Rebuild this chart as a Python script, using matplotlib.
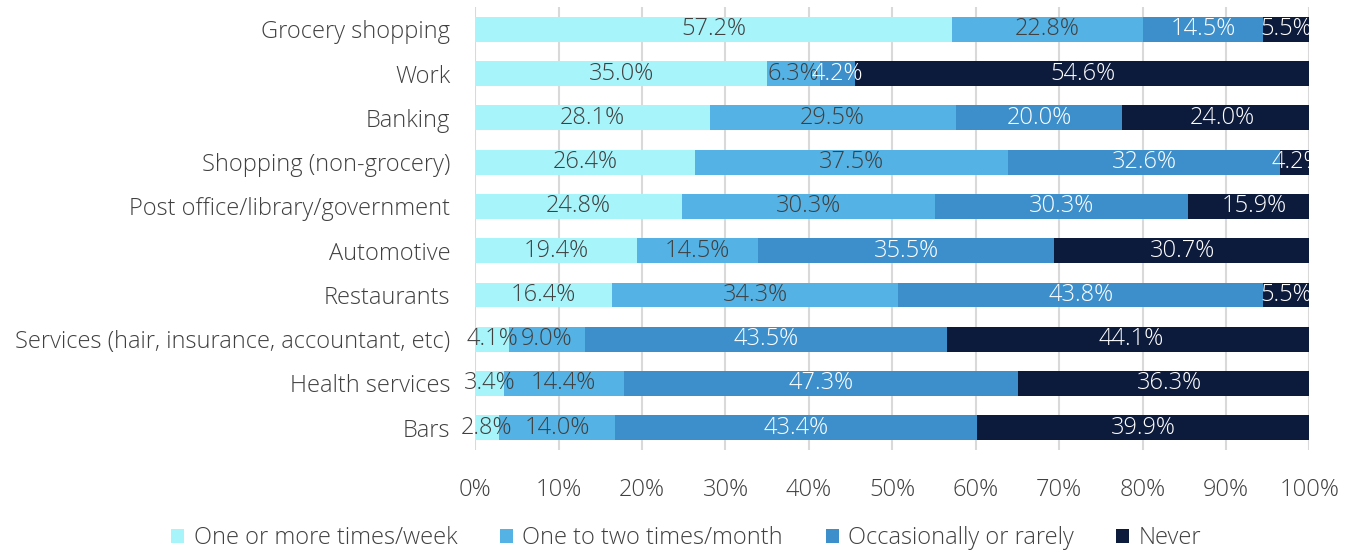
import matplotlib
matplotlib.use("Agg")
import matplotlib.pyplot as plt
import numpy as np

categories = [
    "Grocery shopping",
    "Work",
    "Banking",
    "Shopping (non-grocery)",
    "Post office/library/government",
    "Automotive",
    "Restaurants",
    "Services (hair, insurance, accountant, etc)",
    "Health services",
    "Bars",
]
series_names = [
    "One or more times/week",
    "One to two times/month",
    "Occasionally or rarely",
    "Never",
]
weekly = [57.2, 35.0, 28.1, 26.4, 24.8, 19.4, 16.4, 4.1, 3.4, 2.8]
monthly = [22.8, 6.3, 29.5, 37.5, 30.3, 14.5, 34.3, 9.0, 14.4, 14.0]
rarely = [14.5, 4.2, 20.0, 32.6, 30.3, 35.5, 43.8, 43.5, 47.3, 43.4]
never = [5.5, 54.6, 24.0, 4.2, 15.9, 30.7, 5.5, 44.1, 36.3, 39.9]
tick_labels = ["0%", "10%", "20%", "30%", "40%", "50%", "60%", "70%", "80%", "90%", "100%"]

colors = ["#A8F4FB", "#55B2E4", "#3C8FCB", "#0C1A3B"]
text_colors = ["#404040", "#404040", "#FFFFFF", "#FFFFFF"]

plt.rcParams["font.family"] = ["Open Sans", "DejaVu Sans"]
plt.rcParams["font.weight"] = "light"
FS = 17

fig = plt.figure(figsize=(13.54, 5.52), dpi=100)
ax = fig.add_axes([0.351, 0.185, 0.616, 0.802])

y = np.arange(len(categories))
left = np.zeros(len(categories))
for vals, name, col, tcol in zip([weekly, monthly, rarely, never], series_names, colors, text_colors):
    vals = np.array(vals)
    ax.barh(y, vals, left=left, height=0.56, color=col, label=name, zorder=2)
    for yi, l, v in zip(y, left, vals):
        ax.text(l + v / 2, yi, f"{v:.1f}%", ha="center", va="center",
                color=tcol, fontsize=FS, zorder=3)
    left += vals

ax.set_xlim(0, 100)
ax.set_ylim(len(categories) - 0.5, -0.5)
ax.set_yticks(y)
ax.set_yticklabels(categories, fontsize=FS, color="#404040")
ax.set_xticks(np.arange(0, 101, 10))
ax.set_xticklabels(tick_labels, fontsize=FS, color="#404040")
ax.tick_params(axis="both", length=0)
ax.tick_params(axis="x", pad=20)
ax.tick_params(axis="y", pad=18)
ax.grid(axis="x", color="#D9D9D9", linewidth=1.5, zorder=0)
ax.set_axisbelow(True)
for s in ax.spines.values():
    s.set_visible(False)

handles, labels = ax.get_legend_handles_labels()
fig.legend(handles, labels, loc="lower center", bbox_to_anchor=(0.507, -0.035), ncol=4,
           frameon=False, fontsize=FS, handlelength=0.55, handleheight=0.55,
           handletextpad=0.4, columnspacing=1.8, labelcolor="#404040")

fig.savefig("out.png", dpi=100)
